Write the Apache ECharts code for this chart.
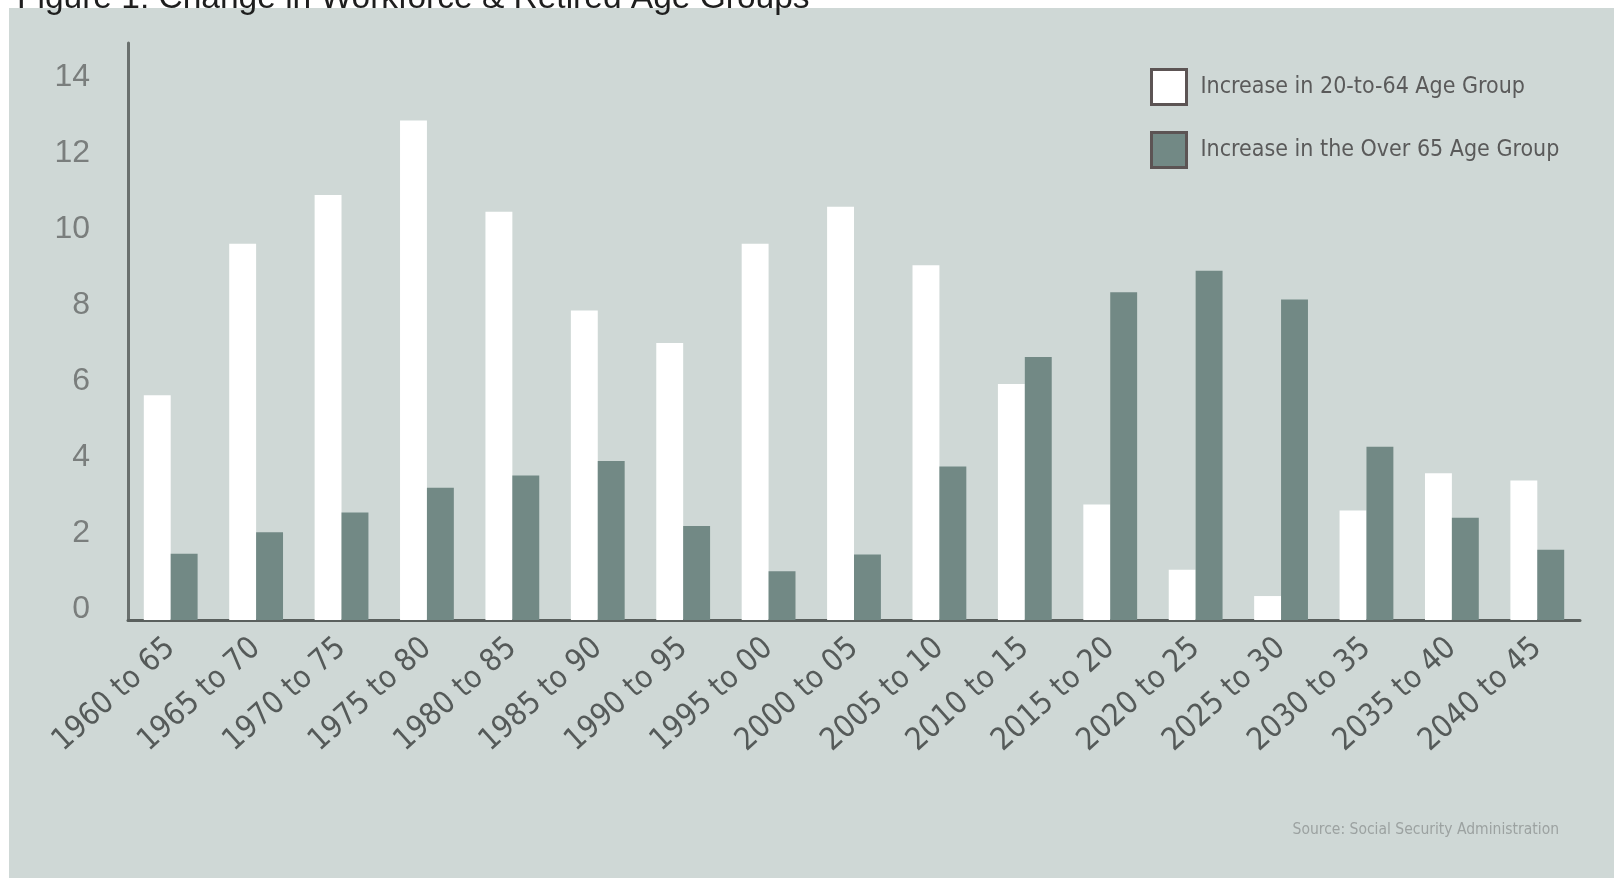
<!DOCTYPE html>
<html>
<head>
<meta charset="utf-8">
<script src="https://cdn.jsdelivr.net/npm/echarts@6/dist/echarts.min.js"></script>
<style>
html,body{margin:0;padding:0;background:#ffffff;}
#chart{width:1614px;height:878px;}
</style>
</head>
<body>
<div id="chart"></div>
<script>
const categories = ["1960 to 65","1965 to 70","1970 to 75","1975 to 80","1980 to 85","1985 to 90","1990 to 95","1995 to 00","2000 to 05","2005 to 10","2010 to 15","2015 to 20","2020 to 25","2025 to 30","2030 to 35","2035 to 40","2040 to 45"];
const workingAge = [5.91, 9.90, 11.18, 13.14, 10.74, 8.14, 7.29, 9.90, 10.87, 9.33, 6.21, 3.04, 1.32, 0.63, 2.88, 3.86, 3.67];
const over65 = [1.74, 2.31, 2.83, 3.48, 3.80, 4.18, 2.47, 1.28, 1.72, 4.04, 6.92, 8.62, 9.19, 8.43, 4.56, 2.69, 1.85];
const seriesNames = ["Increase in 20-to-64 Age Group", "Increase in the Over 65 Age Group"];
const titleText = "Figure 1: Change in Workforce & Retired Age Groups";
const sourceText = "Source: Social Security Administration";

const condensed = "'DejaVu Sans Condensed', 'Liberation Sans', sans-serif";
const chart = echarts.init(document.getElementById('chart'), null, {renderer: 'canvas'});
const option = {
  backgroundColor: '#ffffff',
  animation: false,
  graphic: [{
    type: 'rect', z: -10, silent: true,
    shape: {x: 9, y: 8, width: 1614 - 9, height: 878 - 8},
    style: {fill: '#cfd8d6'}
  }],
  title: [{
    text: titleText, left: 12, top: -23,
    textStyle: {fontFamily: 'Liberation Sans', fontSize: 33.5, fontWeight: 'normal', color: '#1e1e1e'}
  }, {
    text: sourceText, right: 50, top: 817,
    textStyle: {fontFamily: condensed, fontSize: 15.5, fontWeight: 'normal', color: '#9ca2a1'}
  }],
  legend: {
    orient: 'vertical', left: 1145, top: 63,
    itemWidth: 35, itemHeight: 35, itemGap: 25,
    icon: 'rect',
    itemStyle: {borderColor: '#5c5454', borderWidth: 3},
    textStyle: {fontFamily: condensed, fontSize: 23, color: '#5a5a5a', padding: [0, 0, 0, 9]},
    data: seriesNames
  },
  grid: {left: 128, top: 43, width: 1452, height: 577, containLabel: false},
  xAxis: {
    type: 'category', data: categories,
    axisLine: {lineStyle: {color: '#5a605e', width: 3}},
    axisTick: {show: false},
    axisLabel: {rotate: 42, margin: 24, interval: 0, fontFamily: condensed, fontSize: 31, color: '#555a59'}
  },
  yAxis: {
    type: 'value', min: 0, max: 15.18, interval: 2,
    axisLine: {show: true, lineStyle: {color: '#6a706e', width: 3}},
    axisTick: {show: false},
    splitLine: {show: false},
    axisLabel: {showMaxLabel: false, margin: 38, fontFamily: 'Liberation Sans', fontSize: 32, lineHeight: 22, verticalAlign: 'bottom', color: '#7a7e7d'}
  },
  series: [{
    name: seriesNames[0], type: 'bar', data: workingAge,
    barGap: '0%', barCategoryGap: '37%',
    itemStyle: {color: '#ffffff'}
  }, {
    name: seriesNames[1], type: 'bar', data: over65,
    barGap: '0%', barCategoryGap: '37%',
    itemStyle: {color: '#728985'}
  }]
};
chart.setOption(option);
</script>
</body>
</html>
